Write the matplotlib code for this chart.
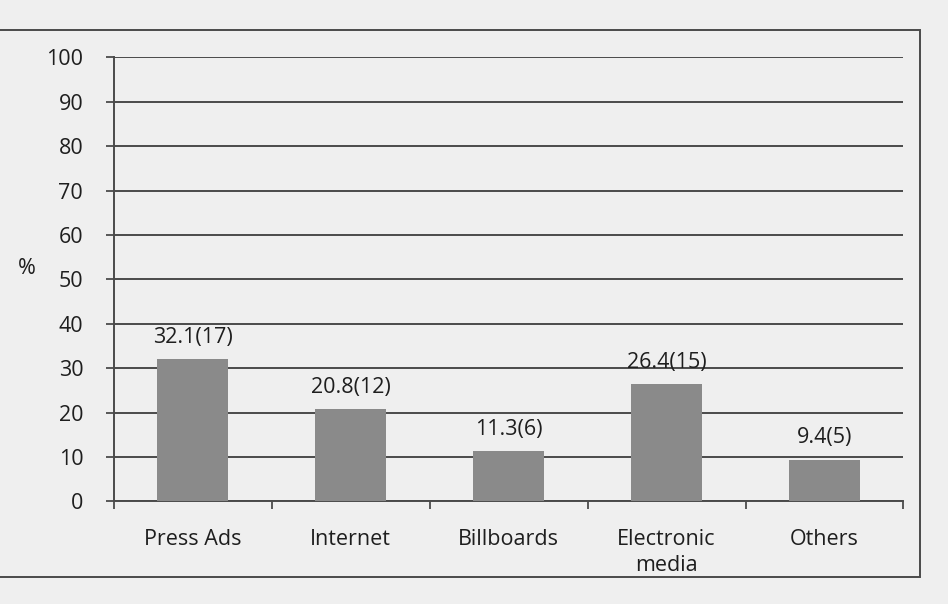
import matplotlib
matplotlib.use("Agg")
import matplotlib.pyplot as plt
from matplotlib.patches import Rectangle

categories = ["Press Ads", "Internet", "Billboards", "Electronic\nmedia", "Others"]
values = [32.1, 20.8, 11.3, 26.4, 9.4]
counts = [17, 12, 6, 15, 5]
yticks = [0, 10, 20, 30, 40, 50, 60, 70, 80, 90, 100]

plt.rcParams['font.family'] = ['Open Sans', 'DejaVu Sans']

fig = plt.figure(figsize=(9.48, 6.04), dpi=100, facecolor="#efefef")
ax = fig.add_axes([0.12, 0.17, 0.833, 0.735])
ax.set_facecolor("#efefef")

x = range(len(categories))
ax.bar(x, values, width=0.45, color="#8a8a8a", zorder=3)
for xi, v, c in zip(x, values, counts):
    ax.text(xi, v + 2.5, f"{v}({c})", ha="center", va="bottom", fontsize=15.5, color="#1e1e1e", zorder=4)

ax.set_xlim(-0.5, len(categories) - 0.5)
ax.set_ylim(0, 100)
ax.set_yticks(yticks)
ax.yaxis.grid(True, color="#4a4a4a", linewidth=1.4, zorder=0)
ax.set_xticks(list(x))
ax.set_xticklabels(categories, fontsize=15.5, color="#1e1e1e", linespacing=1.3)
ax.set_xticks([i - 0.5 for i in range(len(categories) + 1)], minor=True)
ax.tick_params(axis="x", which="major", length=0, pad=20)
ax.tick_params(axis="x", which="minor", length=6, color="#4a4a4a", width=1.3)
ax.tick_params(axis="y", length=6, color="#4a4a4a", width=1.3, labelsize=15.5, labelcolor="#1e1e1e", pad=16)
for s in ["top", "right"]:
    ax.spines[s].set_visible(False)
for s in ["left", "bottom"]:
    ax.spines[s].set_color("#4a4a4a")
    ax.spines[s].set_linewidth(1.4)
ax.set_ylabel("%", rotation=0, fontsize=15.5, color="#1e1e1e")
ax.yaxis.set_label_coords(-0.11, 0.5)

fig.patches.append(Rectangle((-0.01, 0.045), 0.98, 0.905, transform=fig.transFigure,
                             fill=False, edgecolor="#4a4a4a", linewidth=1.4))

fig.savefig("out.png", dpi=100, facecolor=fig.get_facecolor())
